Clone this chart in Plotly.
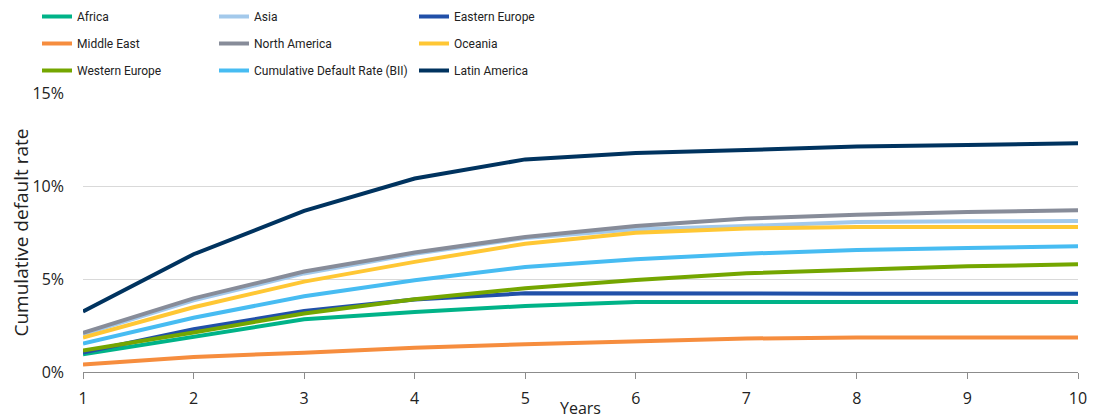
import plotly.graph_objects as go

# Anos e taxas de default acumuladas (%)
years = [1, 2, 3, 4, 5, 6, 7, 8, 9, 10]

africa = [0.95, 1.90, 2.83, 3.23, 3.55, 3.76, 3.76, 3.76, 3.76, 3.76]
asia = [2.02, 3.85, 5.30, 6.35, 7.20, 7.67, 7.85, 8.06, 8.10, 8.12]
eastern_europe = [1.05, 2.30, 3.28, 3.90, 4.23, 4.21, 4.21, 4.21, 4.21, 4.21]
middle_east = [0.40, 0.81, 1.04, 1.31, 1.49, 1.65, 1.80, 1.85, 1.85, 1.85]
north_america = [2.10, 3.96, 5.40, 6.42, 7.26, 7.85, 8.25, 8.46, 8.60, 8.69]
oceania = [1.85, 3.48, 4.86, 5.92, 6.90, 7.49, 7.71, 7.80, 7.80, 7.80]
western_europe = [1.15, 2.12, 3.15, 3.91, 4.50, 4.95, 5.31, 5.52, 5.68, 5.79]
bii = [1.53, 2.92, 4.07, 4.93, 5.65, 6.06, 6.36, 6.56, 6.67, 6.76]
latin_america = [3.25, 6.33, 8.66, 10.40, 11.43, 11.78, 11.94, 12.12, 12.20, 12.30]

y_ticks = [0, 5, 10, 15]
y_tick_labels = ["0%", "5%", "10%", "15%"]

series = [
    ("Africa", africa, "#00B388", "legend"),
    ("Asia", asia, "#A3C9EB", "legend2"),
    ("Eastern Europe", eastern_europe, "#2150A8", "legend3"),
    ("Middle East", middle_east, "#F68D3E", "legend"),
    ("North America", north_america, "#878C99", "legend2"),
    ("Oceania", oceania, "#FFC734", "legend3"),
    ("Western Europe", western_europe, "#74A600", "legend"),
    ("Cumulative Default Rate (BII)", bii, "#47BCF2", "legend2"),
    ("Latin America", latin_america, "#00335F", "legend3"),
]

FONT = "Open Sans, Noto Sans, sans-serif"
LEGEND_FONT = dict(family="Roboto, sans-serif", size=12, color="#222222")

# a página tem 8px de margem no body, então a figura é um pouco menor
W, H = 1094, 408
PLOT_L, PLOT_T, PLOT_W, PLOT_H = 75, 85, 995, 279

fig = go.Figure()
for name, vals, color, leg in series:
    fig.add_trace(go.Scatter(
        x=years, y=vals, name=name, mode="lines",
        line=dict(color=color, width=4),
        legend=leg, legendgroup=name,
    ))

def legend_box(px_left, px_top=-6):
    # px_left: pixel na tela; px_top: pixel na figura
    return dict(
        x=(px_left - 83) / PLOT_W, xref="paper", xanchor="left",
        y=1 + (PLOT_T - px_top) / PLOT_H, yref="paper", yanchor="top",
        orientation="v", font=LEGEND_FONT, tracegroupgap=8,
        bgcolor="rgba(0,0,0,0)", itemwidth=30,
    )

fig.update_layout(
    width=W,
    height=H,
    template="plotly_white",
    plot_bgcolor="white",
    paper_bgcolor="white",
    font=dict(family=FONT, size=16, color="#222222"),
    margin=dict(l=PLOT_L, r=W - PLOT_L - PLOT_W, t=PLOT_T, b=H - PLOT_T - PLOT_H,
                autoexpand=False),
    showlegend=True,
    legend=legend_box(37),
    legend2=legend_box(214),
    legend3=legend_box(414),
    xaxis=dict(
        range=[1, 10], dtick=1, tick0=1,
        showgrid=False, zeroline=False,
        showline=True, linecolor="#8c8c8c", linewidth=1,
        ticks="outside", ticklen=6, tickcolor="#8c8c8c",
        ticklabelstandoff=6,
    ),
    yaxis=dict(
        range=[0, 15], tickvals=y_ticks, ticktext=y_tick_labels,
        showgrid=True, gridcolor="#d9d9d9", gridwidth=1,
        zeroline=False, showline=False,
        ticklabelstandoff=18,
        title=dict(text="Cumulative default rate", standoff=1),
    ),
    annotations=[dict(
        text="Years", x=0.5, xref="paper", y=-(408 - 372) / PLOT_H, yref="paper",
        xanchor="center", yanchor="middle", showarrow=False,
        font=dict(family=FONT, size=16, color="#222222"),
    )],
)

fig.write_html("out.html")
